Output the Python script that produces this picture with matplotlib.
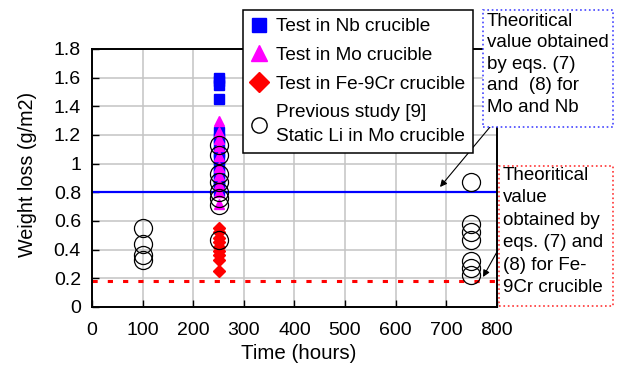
import numpy as np
import matplotlib
matplotlib.use('Agg')
import matplotlib.pyplot as plt
from matplotlib.patches import Rectangle

plt.rcParams['font.family'] = ['Liberation Sans', 'DejaVu Sans']

# weight loss data (g/m2) vs exposure time (hours)
nb_time = 250
nb_loss = [1.60, 1.58, 1.55, 1.45, 1.22, 1.18, 1.13, 1.08, 1.03, 0.98, 0.94, 0.90, 0.87, 0.84, 0.81]

mo_time = 250
mo_loss = [1.30, 1.22, 1.17, 1.12, 1.05, 0.98, 0.92, 0.86, 0.80, 0.72]

fe_time = 250
fe_loss = [0.55, 0.52, 0.48, 0.45, 0.42, 0.39, 0.36, 0.33, 0.25]

prev_time = [100, 100, 100, 100,
             250, 250, 250, 250, 250, 250, 250, 250,
             750, 750, 750, 750, 750, 750, 750]
prev_loss = [0.55, 0.44, 0.36, 0.33,
             1.13, 1.06, 0.93, 0.87, 0.80, 0.76, 0.71, 0.47,
             0.87, 0.58, 0.52, 0.47, 0.32, 0.27, 0.22]

theory_mo_nb = 0.80
theory_fe = 0.18

yticks = [0, 0.2, 0.4, 0.6, 0.8, 1, 1.2, 1.4, 1.6, 1.8]
ytick_labels = ['0', '0.2', '0.4', '0.6', '0.8', '1', '1.2', '1.4', '1.6', '1.8']
xticks = [0, 100, 200, 300, 400, 500, 600, 700, 800]

W, H = 622, 367
fig = plt.figure(figsize=(6.22, 3.67), dpi=100)
ax = fig.add_axes([0.148, 0.1635, 0.6506, 0.703])

ax.grid(True, color='#c4c4c4', linewidth=1.1, zorder=0)
ax.set_axisbelow(True)

ax.axhline(theory_mo_nb, color='#0000ff', lw=1.6, zorder=2)
ax.plot([0, 804], [theory_fe, theory_fe], color='#ff0000', lw=2.2,
        linestyle=(0, (1.7, 3.3)), clip_on=False, zorder=2)

ax.plot([nb_time] * len(nb_loss), nb_loss, 's', color='#0000ff', ms=7,
        mec='#0000ff', label='Test in Nb crucible', zorder=3)
ax.plot([mo_time] * len(mo_loss), mo_loss, '^', color='#ff00ff', ms=7,
        mec='#ff00ff', label='Test in Mo crucible', zorder=4)
ax.plot([fe_time] * len(fe_loss), fe_loss, 'D', color='#ff0000', ms=6,
        mec='#ff0000', label='Test in Fe-9Cr crucible', zorder=4)
ax.plot(prev_time, prev_loss, 'o', mfc='none', mec='black', mew=0.9, ms=13,
        label='Previous study [9]\nStatic Li in Mo crucible', zorder=5)

ax.set_xlim(0, 800)
ax.set_ylim(0, 1.8)
ax.set_xticks(xticks)
ax.set_yticks(yticks)
ax.set_yticklabels(ytick_labels)
ax.tick_params(direction='in', labelsize=14, length=5, width=1, color='black')
ax.tick_params(axis='x', pad=10.5)
ax.tick_params(axis='y', pad=8)
for s in ax.spines.values():
    s.set_linewidth(1.4)

ax.set_xlabel('Time (hours)', fontsize=14.8, labelpad=4)
ax.set_ylabel('Weight loss (g/m2)', fontsize=14.2, labelpad=12)
ax.xaxis.label.set_x(0.511)
ax.yaxis.label.set_y(0.513)

h, l = ax.get_legend_handles_labels()
hl = [plt.Line2D([], [], marker='s', ls='', color='#0000ff', ms=10),
      plt.Line2D([], [], marker='^', ls='', color='#ff00ff', ms=11),
      plt.Line2D([], [], marker='D', ls='', color='#ff0000', ms=10),
      plt.Line2D([], [], marker='o', ls='', mfc='white', mec='black', ms=11, mew=1)]
leg = fig.legend(hl, l, loc='upper left', bbox_to_anchor=(243 / W, 1 - 10 / H),
                 fontsize=13.7, frameon=True, fancybox=False, edgecolor='black',
                 framealpha=1, handlelength=0.85, handletextpad=0.45,
                 labelspacing=0.6, borderpad=0.42, borderaxespad=0)
leg.get_frame().set_linewidth(1.1)
leg.get_texts()[3].set_linespacing(1.56)
leg.set_zorder(10)

# annotation boxes
fig.add_artist(Rectangle((483 / W, 1 - 127 / H), 130 / W, 117 / H,
                         transform=fig.transFigure, fc='white', ec='#4444ff',
                         ls=':', lw=1.2, zorder=11))
fig.text(487 / W, 1 - 13 / H,
         'Theoritical\nvalue obtained\nby eqs. (7)\nand  (8) for\nMo and Nb',
         fontsize=13.5, va='top', ha='left', linespacing=1.34, zorder=12)
fig.add_artist(Rectangle((499 / W, 1 - 306 / H), 114 / W, 140 / H,
                         transform=fig.transFigure, fc='white', ec='#ff3333',
                         ls=':', lw=1.2, zorder=11))
fig.text(503 / W, 1 - 167 / H,
         'Theoritical\nvalue\nobtained by\neqs. (7) and\n(8) for Fe-\n9Cr crucible',
         fontsize=13.5, va='top', ha='left', linespacing=1.42, zorder=12)

ax.annotate('', xy=(440 / W, 1 - 187 / H), xycoords='figure fraction',
            xytext=(490 / W, 1 - 127 / H), textcoords='figure fraction',
            arrowprops=dict(arrowstyle='-|>', color='black', lw=0.8,
                            mutation_scale=10, shrinkA=0, shrinkB=0))
ax.annotate('', xy=(483 / W, 1 - 277 / H), xycoords='figure fraction',
            xytext=(498 / W, 1 - 250 / H), textcoords='figure fraction',
            arrowprops=dict(arrowstyle='-|>', color='black', lw=0.8,
                            mutation_scale=10, shrinkA=0, shrinkB=0))

fig.savefig('out.png', dpi=100)
